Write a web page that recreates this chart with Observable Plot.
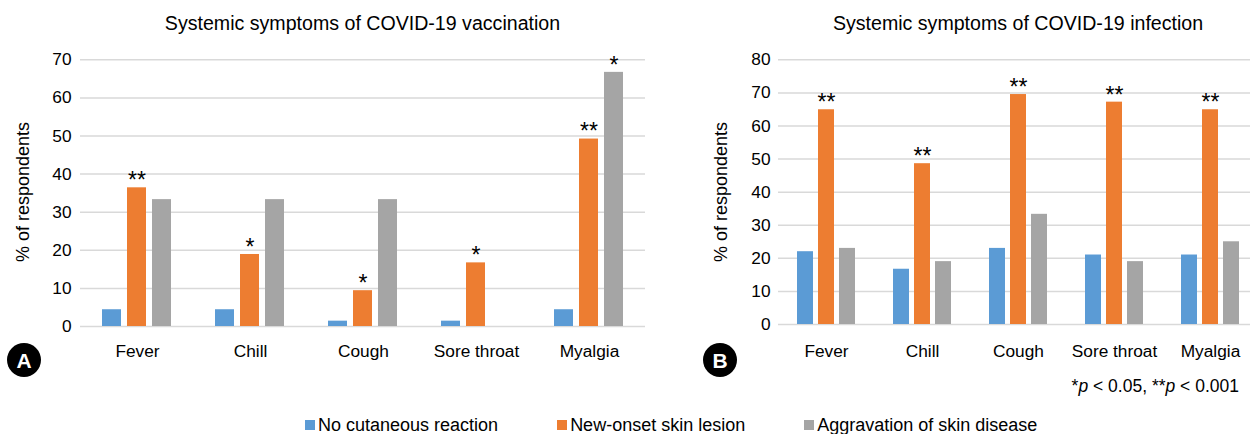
<!DOCTYPE html>
<html>
<head>
<meta charset="utf-8">
<script src="https://cdn.jsdelivr.net/npm/d3@7"></script>
<script src="https://cdn.jsdelivr.net/npm/@observablehq/plot@0.6"></script>
<style>
html, body { margin: 0; padding: 0; background: #fff; }
body { width: 1250px; height: 434px; overflow: hidden; position: relative;
       font-family: "Liberation Sans", Arial, sans-serif; color: #000; }
.layer { position: absolute; top: 0; }
.layer svg { max-width: none; display: block; }
.txt { position: absolute; white-space: nowrap; line-height: 1; }
.badge { position: absolute; width: 34px; height: 34px; border-radius: 50%; background: #000;
         color: #fff; font-weight: bold; font-size: 21px; display: flex; align-items: center;
         justify-content: center; line-height: 1; }
.legend { position: absolute; left: 305px; top: 0; display: flex; gap: 59px; font-size: 18px; }
.legend .item { display: flex; align-items: center; }
.legend .sw { width: 10px; height: 10px; margin-right: 3px; }
</style>
</head>
<body>
<script>
// ---------- data ----------
const categories = ["Fever", "Chill", "Cough", "Sore throat", "Myalgia"];
const series = ["No cutaneous reaction", "New-onset skin lesion", "Aggravation of skin disease"];
const colors = ["#5B9BD5", "#ED7D31", "#A5A5A5"];

// Panel A: Systemic symptoms of COVID-19 vaccination (% of respondents)
const vaxNoReaction  = [4.4, 4.4, 1.4, 1.4, 4.4];
const vaxNewOnset    = [36.4, 18.9, 9.4, 16.7, 49.2];
const vaxAggravation = [33.3, 33.3, 33.3, 0, 66.7];
const vaxSigNoReaction  = ["", "", "", "", ""];
const vaxSigNewOnset    = ["**", "*", "*", "*", "**"];
const vaxSigAggravation = ["", "", "", "", "*"];
const vaxTicks = [0, 10, 20, 30, 40, 50, 60, 70];

// Panel B: Systemic symptoms of COVID-19 infection (% of respondents)
const infNoReaction  = [22, 16.7, 23, 21, 21];
const infNewOnset    = [64.9, 48.6, 69.5, 67.2, 64.9];
const infAggravation = [23, 19, 33.3, 19, 25];
const infSigNoReaction  = ["", "", "", "", ""];
const infSigNewOnset    = ["**", "**", "**", "**", "**"];
const infSigAggravation = ["", "", "", "", ""];
const infTicks = [0, 10, 20, 30, 40, 50, 60, 70, 80];

const titleA = "Systemic symptoms of COVID-19 vaccination";
const titleB = "Systemic symptoms of COVID-19 infection";
const yLabel = "% of respondents";
const footnoteHTML = "*<i>p</i> &lt; 0.05, **<i>p</i> &lt; 0.001";

// ---------- helpers ----------
function buildRows(valueLists, sigLists) {
  const rows = [];
  categories.forEach((cat, i) => {
    series.forEach((s, j) => {
      rows.push({cat, series: s, value: valueLists[j][i], sig: sigLists[j][i]});
    });
  });
  return rows;
}

const FONT = "'Liberation Sans', Arial, sans-serif";
const H = 370;

function addLayer(node, left, width) {
  const div = document.createElement("div");
  div.className = "layer";
  div.style.left = left + "px";
  div.style.width = width + "px";
  div.appendChild(node);
  document.body.appendChild(div);
}

function addText(html, css) {
  const d = document.createElement("div");
  d.className = "txt";
  d.innerHTML = html;
  Object.assign(d.style, css);
  document.body.appendChild(d);
  return d;
}

function panel({left, width, marginLeft, zeroY, topY, ticks, rows, yTickPad, fxTickPad, title, yLabelX}) {
  const yMax = ticks[ticks.length - 1];
  const common = {
    width, height: H, marginLeft, marginRight: 0, marginTop: topY, marginBottom: H - zeroY,
    style: {fontFamily: FONT, fontSize: "17.3px", background: "transparent", color: "#000", maxWidth: "none", overflow: "visible"}
  };
  // background: grid + y axis
  const bg = Plot.plot({
    ...common,
    y: {domain: [0, yMax], ticks, tickSize: 0, tickPadding: yTickPad, label: null, tickFormat: d => String(d)},
    marks: [Plot.ruleY(ticks, {stroke: "#d9d9d9", strokeWidth: 1.5})]
  });
  addLayer(bg, left, width);
  // foreground: grouped bars via facets
  const fg = Plot.plot({
    ...common,
    facet: {data: rows, x: "cat"},
    fx: {domain: categories, paddingInner: 0.33, paddingOuter: 0.165, axis: "bottom",
         tickSize: 0, tickPadding: fxTickPad, label: null},
    x: {domain: series, axis: null, paddingInner: 0.23, paddingOuter: 0.115},
    y: {domain: [0, yMax], axis: null},
    color: {domain: series, range: colors},
    marks: [
      Plot.barY(rows, {x: "series", y: "value", fill: "series"}),
      Plot.text(rows, {x: "series", y: "value", text: "sig", fontSize: 23, lineAnchor: "middle", dy: -7, fill: "#000"})
    ]
  });
  addLayer(fg, left, width);

  // title centred over plot frame
  const frameLeft = left + marginLeft;
  const frameW = width - marginLeft;
  addText(title, {left: frameLeft + "px", width: frameW + "px", textAlign: "center",
                  top: (31 - 0.8465 * 19.6) + "px", fontSize: "19.6px"});
  // y label (rotated)
  addText(yLabel, {left: yLabelX + "px", top: "192px", fontSize: "18px",
                   transform: "translate(-50%, -50%) rotate(-90deg)"});
}

// ---------- panels ----------
panel({left: 0, width: 645, marginLeft: 80, zeroY: 326, topY: 59.3, ticks: vaxTicks,
       rows: buildRows([vaxNoReaction, vaxNewOnset, vaxAggravation], [vaxSigNoReaction, vaxSigNewOnset, vaxSigAggravation]),
       yTickPad: 9, fxTickPad: 18, title: titleA, yLabelX: 23});
panel({left: 645, width: 613, marginLeft: 133, zeroY: 324, topY: 59.3, ticks: infTicks,
       rows: buildRows([infNoReaction, infNewOnset, infAggravation], [infSigNoReaction, infSigNewOnset, infSigAggravation]),
       yTickPad: 8, fxTickPad: 20, title: titleB, yLabelX: 721});

// badges
[["A", 24], ["B", 720]].forEach(([letter, cx]) => {
  const b = document.createElement("div");
  b.className = "badge";
  b.textContent = letter;
  b.style.left = (cx - 17) + "px";
  b.style.top = (360 - 17) + "px";
  document.body.appendChild(b);
});

// footnote
addText(footnoteHTML, {right: "11px", top: (393.3 - 0.8465 * 17.5) + "px", fontSize: "17.5px"});

// legend
const legend = document.createElement("div");
legend.className = "legend";
legend.style.top = (431.7 - 0.8465 * 18) + "px";
legend.style.lineHeight = "1";
series.forEach((s, i) => {
  const item = document.createElement("div");
  item.className = "item";
  const sw = document.createElement("span");
  sw.className = "sw";
  sw.style.background = colors[i];
  const t = document.createElement("span");
  t.textContent = s;
  item.appendChild(sw);
  item.appendChild(t);
  legend.appendChild(item);
});
document.body.appendChild(legend);
</script>
</body>
</html>
